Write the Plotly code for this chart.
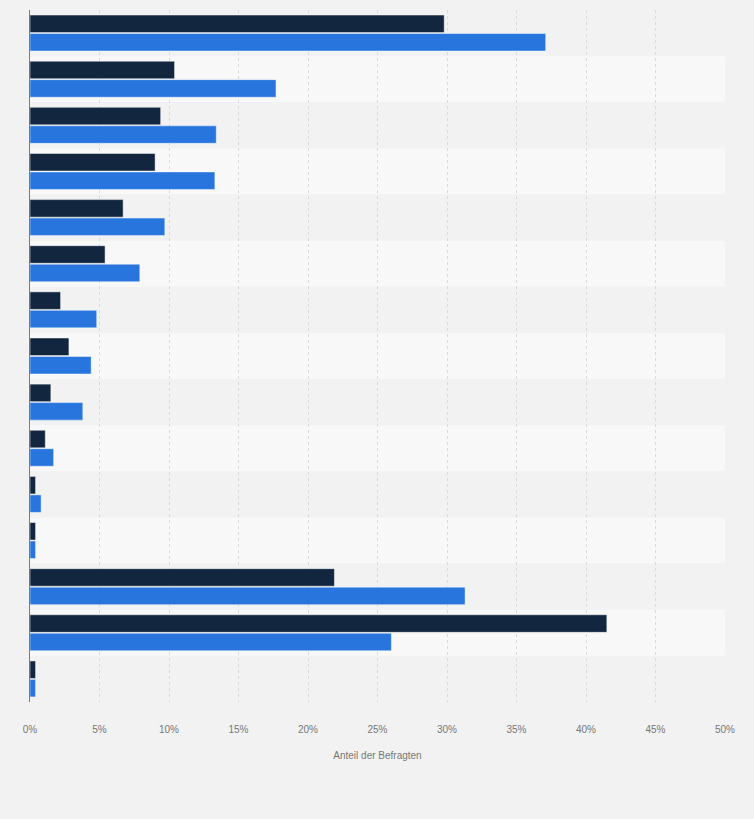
import plotly.graph_objects as go

# Kategorien (Beschriftungen im Original ausgeblendet)
kategorien = [str(i) for i in range(1, 16)]

# Anteil der Befragten in Prozent
reihe_dunkel = [29.8, 10.4, 9.4, 9.0, 6.7, 5.4, 2.2, 2.8, 1.5, 1.1, 0.4, 0.4, 21.9, 41.5, 0.4]
reihe_blau = [37.1, 17.7, 13.4, 13.3, 9.7, 7.9, 4.8, 4.4, 3.8, 1.7, 0.8, 0.4, 31.3, 26.0, 0.4]

x_ticks = list(range(0, 51, 5))
x_tick_text = [f"{t}%" for t in x_ticks]

fig = go.Figure()

fig.add_trace(go.Bar(
    y=kategorien, x=reihe_dunkel, orientation="h", name="Reihe 1",
    marker=dict(color="#12273f", line=dict(color="rgba(255,255,255,0.45)", width=1)),
    hoverinfo="x",
))
fig.add_trace(go.Bar(
    y=kategorien, x=reihe_blau, orientation="h", name="Reihe 2",
    marker=dict(color="#2876dd", line=dict(color="rgba(255,255,255,0.45)", width=1)),
    hoverinfo="x",
))

# abwechselnde Hintergrundstreifen
shapes = []
for i in range(len(kategorien)):
    shapes.append(dict(
        type="rect", xref="paper", yref="y", layer="below",
        x0=0, x1=1, y0=i - 0.5, y1=i + 0.5,
        fillcolor="#f2f2f2" if i % 2 == 0 else "#f8f8f8",
        line=dict(width=0),
    ))

fig.update_layout(
    width=754, height=819, autosize=False,
    paper_bgcolor="#f2f2f2", plot_bgcolor="rgba(0,0,0,0)",
    margin=dict(l=30, r=29, t=10, b=117),
    barmode="group", bargap=0.2, bargroupgap=0.05,
    showlegend=False,
    shapes=shapes,
    font=dict(family="Liberation Sans, Arial, sans-serif", size=10, color="#666666"),
)

fig.update_xaxes(
    range=[0, 50], tickvals=x_ticks, ticktext=x_tick_text,
    showgrid=True, gridcolor="#dadada", griddash="dot", gridwidth=1,
    zeroline=False, showline=False, ticks="",
    ticklabelstandoff=20,
    tickfont=dict(size=10, color="#777777"),
    title=dict(text="Anteil der Befragten", standoff=17,
               font=dict(size=10, color="#777777")),
)
fig.update_yaxes(
    range=[14.5, -0.5], showticklabels=False, ticks="",
    showgrid=False, zeroline=False,
    showline=True, linecolor="#7a7a7a", linewidth=1,
)

# Seitenrand des Browsers entfernen, damit die Grafik das Fenster füllt
seite = ("document.body.style.margin='0';"
         "document.body.style.background='#f2f2f2';"
         "document.body.style.overflow='hidden';")

fig.write_html("out.html", post_script=seite, config={"displayModeBar": False})
